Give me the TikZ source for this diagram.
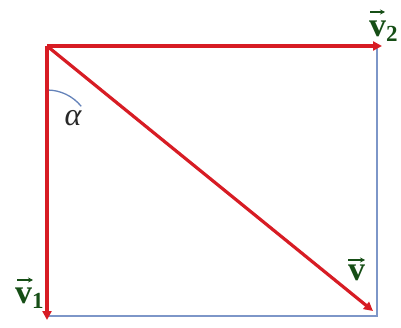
\documentclass[tikz,border=0pt]{standalone}
\usepackage{fontspec}
\setmainfont{Liberation Serif}
\usetikzlibrary{arrows.meta}
\definecolor{vred}{RGB}{215,28,36}
\definecolor{vblue}{RGB}{125,150,200}
\definecolor{varc}{RGB}{100,130,185}
\definecolor{vgreen}{RGB}{22,78,22}
\tikzset{
  vec/.style={vred, line width=3.2pt, -{Triangle[length=9pt,width=9pt]}},
  side/.style={vblue, line width=1.1pt},
  lab/.style={text=vgreen, font=\fontsize{34}{34}\selectfont\bfseries, inner sep=0pt, anchor=base west},
  overarrow/.style={vgreen, line width=1.4pt, -{Stealth[length=5pt,width=5pt]}},
}
\newcommand{\subfig}[1]{\raisebox{-5pt}{\fontsize{23}{23}\selectfont\bfseries #1}}
\begin{document}
\begin{tikzpicture}[x=1pt,y=-1pt]
\useasboundingbox (0,0) rectangle (401,328);
\coordinate (O) at (47,46);
\coordinate (A) at (377,46);
\coordinate (B) at (47,316);
\coordinate (C) at (377,316);
\coordinate (Atip) at (382,46);
\coordinate (Btip) at (47,320);
\coordinate (Ctip) at (373,311);
\draw[side] (A) -- (C) -- (B);
\draw[varc, line width=1.3pt] (47,90) arc[start angle=-90, end angle=-39, radius=44];
\draw[vec] (O) -- (Atip);
\draw[vec] (O) -- (Btip);
\draw[vec] (O) -- (Ctip);
\node[inner sep=0pt, text={rgb,255:red,40;green,40;blue,40}, font=\fontsize{32}{32}\selectfont\itshape] (alpha) at (73,118) {α};
\node[lab] (v2) at (369,37) {v\subfig{2}};
\node[lab] (v1) at (15,303) {v\subfig{1}};
\node[lab] (v) at (348,280) {v};
\coordinate (a2s) at (370,12); \coordinate (a2e) at (385,12);
\coordinate (a1s) at (17,280); \coordinate (a1e) at (33,280);
\coordinate (as) at (348,260); \coordinate (ae) at (365,260);
\draw[overarrow] (a2s) -- (a2e);
\draw[overarrow] (a1s) -- (a1e);
\draw[overarrow] (as) -- (ae);
\end{tikzpicture}
\end{document}
